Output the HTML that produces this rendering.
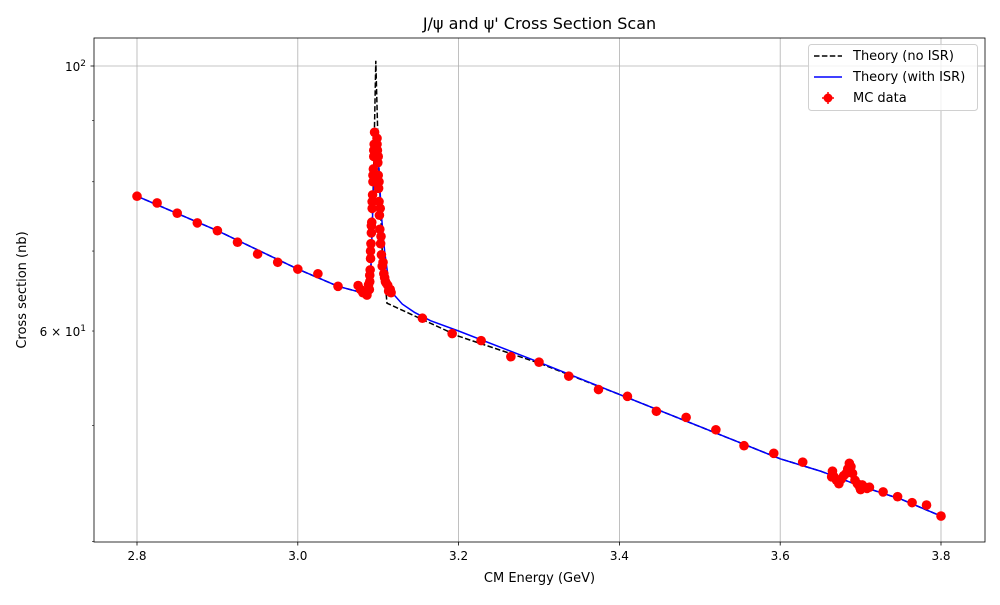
<!DOCTYPE html>
<html><head><meta charset="utf-8"><style>
body{margin:0;background:#fff;font-family:"Liberation Sans","DejaVu Sans",sans-serif;}
svg text{font-family:"DejaVu Sans","Liberation Sans",sans-serif;fill:#000;}
</style></head><body>
<svg id="chart" width="1000" height="600" xmlns="http://www.w3.org/2000/svg">
<rect width="1000" height="600" fill="#fff"/>
<g id="grid"></g>
<g id="lines"></g>
<g id="pts"></g>
<g id="axes"></g>
</svg>
<script>
const theoryE=[2.8,2.9,3.0,3.05,3.08,3.09,3.094,3.097,3.1,3.105,3.111,3.2,3.3,3.4,3.5,3.6,3.65,3.7,3.75,3.8];
const noIsrVals=[77.8,72.8,67.6,65.4,64.6,64.6,80,101,85,70,63.3,59.4,56.4,53.1,49.9,46.9,45.8,44.5,43.4,42.0];
const isrE=[2.8,2.9,3.0,3.05,3.08,3.09,3.093,3.097,3.1,3.104,3.108,3.113,3.12,3.13,3.145,3.165,3.2,3.3,3.4,3.5,3.6,3.65,3.7,3.75,3.8];
const isrVals=[77.8,72.8,67.6,65.4,64.6,65,75,88.4,84,75,70,66,64.3,63.2,62.2,61.2,60.0,56.5,53.1,49.9,46.9,45.8,44.5,43.4,42.0];
const dataE=[2.8,2.825,2.85,2.875,2.9,2.925,2.95,2.975,3.0,3.025,3.05,
3.075,3.078,3.081,3.084,3.087,3.086,3.088,
3.089,3.0895,3.09,3.0905,3.091,3.0915,3.092,3.0925,3.093,3.0935,3.094,3.0945,3.095,3.0955,
3.0895,3.0905,3.0915,3.0925,3.0935,3.0945,
3.0985,3.099,3.0995,3.1,3.1005,3.101,3.1015,3.102,3.103,3.104,3.105,3.107,3.109,3.112,3.115,
3.0985,3.1,3.101,3.1025,3.1035,3.106,3.108,3.11,3.113,3.116,
3.155,3.192,3.228,3.265,3.3,3.337,3.374,3.41,3.446,3.483,3.52,3.555,3.592,3.628,
3.664,3.665,3.667,3.670,3.673,3.676,3.679,3.682,3.684,3.686,3.688,3.690,3.693,3.696,3.699,3.700,3.702,3.705,3.708,3.711,
3.728,3.746,3.764,3.782,3.8];
const dataVals=[77.8,76.8,75.3,73.9,72.8,71.2,69.6,68.5,67.6,67.0,65.4,
65.5,65.0,64.6,64.5,64.8,64.3,65.6,
65.0,66,67.5,69,71,72.5,74,76,78,80,82,84,86,88,
66.8,70,73.5,77,81,85,
87,85,83,81,79,77,75,73,71,69.5,68,67,66,65.5,65,
86,84,80,76,72,68.5,66.5,65.8,64.8,64.6,
61.5,59.7,58.9,57.1,56.5,55.0,53.6,52.9,51.4,50.8,49.6,48.1,47.4,46.6,
45.3,45.8,45.3,45.0,44.7,45.1,45.4,45.6,46.0,46.5,46.2,45.6,45.0,44.7,44.4,44.2,44.6,44.4,44.3,44.4,
44.0,43.6,43.1,42.9,42.0];
const xTicks=[2.8,3.0,3.2,3.4,3.6,3.8];
const xTickLabels=["2.8","3.0","3.2","3.4","3.6","3.8"];
const minorY=[40,50,60,70,80,90];

const L=94,R=985,T=38,B=542;
const xS=e=>137+(e-2.8)*804;
const yS=v=>66+(2-Math.log10(v))*1194.6;
const NS="http://www.w3.org/2000/svg";
function mk(tag,attrs,parent){const el=document.createElementNS(NS,tag);for(const k in attrs)el.setAttribute(k,attrs[k]);parent.appendChild(el);return el;}
const grid=document.getElementById('grid'),lines=document.getElementById('lines'),pts=document.getElementById('pts'),axes=document.getElementById('axes');

xTicks.forEach((t,i)=>{
  const g=mk('line',{x1:xS(t),x2:xS(t),y1:T,y2:B,stroke:'#b0b0b0','stroke-width':0.8},grid);
  
  
  const tk=mk('line',{x1:xS(t),x2:xS(t),y1:B,y2:B+3.5,stroke:'#000','stroke-width':0.8},axes);
  
  
  const tx=mk('text',{x:xS(t),y:B+18,'text-anchor':'middle','font-size':12},axes);
  tx.textContent=xTickLabels[i];
  
  
});
const gy=mk('line',{x1:L,x2:R,y1:yS(100),y2:yS(100),stroke:'#b0b0b0','stroke-width':0.8},grid);


const tk100=mk('line',{x1:L-3.5,x2:L,y1:yS(100),y2:yS(100),stroke:'#000','stroke-width':0.8},axes);


minorY.forEach(v=>{
  const y=yS(v); if(y>B+0.5) return;
  const m=mk('line',{x1:L-2,x2:L,y1:y,y2:y,stroke:'#000','stroke-width':0.6},axes);
  
  
});
const yl1=mk('text',{x:L-8,y:yS(100)+5,'text-anchor':'end','font-size':12},axes);
yl1.innerHTML='10<tspan dy="-5" font-size="9">2</tspan>';


const yl2=mk('text',{x:L-8,y:yS(60)+5,'text-anchor':'end','font-size':12},axes);
yl2.innerHTML='6 × 10<tspan dy="-5" font-size="9">1</tspan>';



function path(E,V){return E.map((e,i)=>(i?'L':'M')+xS(e).toFixed(1)+','+yS(V[i]).toFixed(1)).join(' ');}
const p1=mk('path',{d:path(theoryE,noIsrVals),fill:'none',stroke:'#000','stroke-width':1.5,'stroke-dasharray':'5.5,2.4'},lines);


const p2=mk('path',{d:path(isrE,isrVals),fill:'none',stroke:'#0000ff','stroke-width':1.5},lines);


dataE.forEach((e,i)=>{
  const c=mk('circle',{cx:xS(e),cy:yS(dataVals[i]),r:4.8,fill:'#ff0000'},pts);
  
  
});

const frame=mk('rect',{x:L,y:T,width:R-L,height:B-T,fill:'none',stroke:'#000','stroke-width':0.8},axes);


const title=mk('text',{x:(L+R)/2,y:29,'text-anchor':'middle','font-size':16},axes);
title.textContent="J/ψ and ψ' Cross Section Scan";


const xl=mk('text',{x:(L+R)/2,y:582,'text-anchor':'middle','font-size':13},axes);
xl.textContent='CM Energy (GeV)';


const yl=mk('text',{x:0,y:0,'text-anchor':'middle','font-size':13,transform:'translate(26,290) rotate(-90)'},axes);
yl.textContent='Cross section (nb)';



const lg=mk('g',{},axes);


mk('rect',{x:808.5,y:44.5,width:169,height:66,rx:3,fill:'#fff','fill-opacity':0.8,stroke:'#d0d0d0'},lg);
mk('line',{x1:814,x2:842,y1:56,y2:56,stroke:'#000','stroke-width':1.5,'stroke-dasharray':'5.5,2.4'},lg);
mk('line',{x1:814,x2:842,y1:77,y2:77,stroke:'#0000ff','stroke-width':1.5},lg);
mk('circle',{cx:828,cy:98,r:4.5,fill:'#ff0000'},lg);
mk('line',{x1:828,x2:828,y1:92,y2:104,stroke:'#ff0000','stroke-width':1.5},lg);
mk('line',{x1:822,x2:834,y1:98,y2:98,stroke:'#ff0000','stroke-width':1.5},lg);
[["Theory (no ISR)",60,'legend-entry-no-isr'],["Theory (with ISR)",81,'legend-entry-with-isr'],["MC data",102,'legend-entry-mc-data']].forEach(a=>{
  const t=mk('text',{x:853,y:a[1],'font-size':13},lg);
  t.textContent=a[0];
  
  
});
</script>
</body></html>
